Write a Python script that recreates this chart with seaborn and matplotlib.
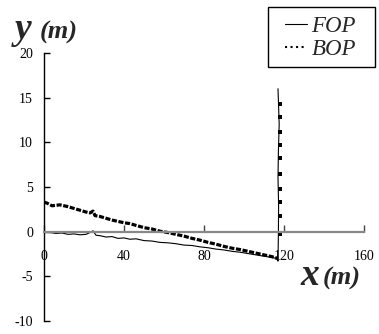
import numpy as np
import pandas as pd
import seaborn as sns
import matplotlib
matplotlib.use("Agg")
import matplotlib.pyplot as plt
from matplotlib.lines import Line2D
from matplotlib.patches import Rectangle

# ---- data ----
fop_x = [0, 3, 6, 9, 12, 15, 18, 21, 23, 24.5, 26, 28, 31, 34, 37, 40, 43, 46, 50, 54,
         58, 62, 66, 70, 74, 78, 82, 86, 90, 94, 98, 102, 106, 110, 113, 116.5,
         117, 117.2, 117.3, 117.0, 117.2, 117.6, 117.3, 117.0]
fop_y = [0, -0.1, -0.2, -0.15, -0.3, -0.25, -0.35, -0.3, -0.1, 0.1, -0.4, -0.45, -0.6, -0.55,
         -0.75, -0.7, -0.85, -0.8, -1.0, -1.05, -1.2, -1.25, -1.35, -1.5, -1.55, -1.7, -1.8,
         -1.95, -2.05, -2.2, -2.3, -2.45, -2.6, -2.75, -2.85, -3.0,
         -3.3, 0, 3, 6, 9, 12, 14, 16]

bop_x = [0, 1.5, 4, 8, 12, 15, 18, 21, 23, 24.5, 25.5, 28, 31, 34, 37, 40, 43, 46, 50, 54,
         58, 62, 66, 70, 74, 78, 82, 86, 90, 94, 98, 102, 106, 110, 114, 117]
bop_y = [3.3, 3.2, 2.9, 3.0, 2.8, 2.6, 2.4, 2.2, 2.1, 2.3, 1.8, 1.7, 1.5, 1.3, 1.15, 1.0, 0.9,
         0.7, 0.45, 0.3, 0.05, -0.1, -0.3, -0.5, -0.75, -0.95, -1.2, -1.4, -1.65, -1.85, -2.0,
         -2.2, -2.4, -2.6, -2.8, -3.0]
bop_vx = [118, 118, 118, 118, 118, 118, 118, 118, 118, 118]
bop_vy = [-0.3, 1.7, 3.3, 4.8, 6.4, 8.2, 9.7, 11.2, 12.8, 14.3]

x_ticks = [0, 40, 80, 120, 160]
y_ticks = [-10, -5, 0, 5, 10, 15, 20]
series_names = ["FOP", "BOP"]

# ---- style ----
sns.set_theme(style="white")
plt.rcParams["font.family"] = ["Liberation Serif", "DejaVu Serif"]

W, H = 379, 334
fig = plt.figure(figsize=(W / 100, H / 100), dpi=100)
ax = fig.add_axes([44 / W, 13 / H, 320 / W, 268 / H])
ax.set_facecolor("white")

sns.lineplot(x=fop_x, y=fop_y, sort=False, estimator=None, ax=ax,
             color="black", linewidth=0.8)
sns.lineplot(x=bop_x, y=bop_y, sort=False, estimator=None, ax=ax,
             color="black", linewidth=2.3, linestyle=(0, (1.6, 0.5)))
sns.scatterplot(x=bop_vx, y=bop_vy, ax=ax, marker="s", s=7, color="black",
                linewidth=0)

ax.set_xlim(0, 160)
ax.set_ylim(-10, 20)
ax.set_xticks(x_ticks)
ax.set_yticks(y_ticks)
ax.set_xticklabels([str(t) for t in x_ticks])
ax.set_yticklabels([str(t) for t in y_ticks])

for s in ["top", "right"]:
    ax.spines[s].set_visible(False)
ax.spines["bottom"].set_position(("data", 0))
ax.spines["bottom"].set_color("#888888")
ax.spines["bottom"].set_linewidth(1.6)
ax.spines["left"].set_color("black")
ax.spines["left"].set_linewidth(1.0)

ax.tick_params(axis="x", direction="in", length=5, width=1, color="#444444",
               pad=13, labelsize=10, labelcolor="black", bottom=True)
ax.tick_params(axis="y", direction="in", length=4, width=1, color="black",
               pad=8, labelsize=10, labelcolor="black", left=True)
ax.set_xlabel("")
ax.set_ylabel("")
ax.grid(False)

# axis titles
def px(x, y):
    return x / W, 1 - y / H

fig.text(*px(15, 39), "y", fontsize=27, fontweight="bold", fontstyle="italic",
         ha="left", va="baseline")
fig.text(*px(40, 39), "(m)", fontsize=19, fontweight="bold", fontstyle="italic",
         ha="left", va="baseline")
fig.text(*px(300, 285), "x", fontsize=27, fontweight="bold", fontstyle="italic",
         ha="left", va="baseline")
fig.text(*px(323, 285), "(m)", fontsize=19, fontweight="bold", fontstyle="italic",
         ha="left", va="baseline")

# legend frame (drawn inside the axes' artist list so the legend stays on top)
x0, y0 = px(268, 67)
x1, y1 = px(375, 7)
frame = Rectangle((x0, y0), x1 - x0, y1 - y0, transform=fig.transFigure,
                  facecolor="white", edgecolor="black", linewidth=1.0,
                  zorder=4, clip_on=False)
ax.add_artist(frame)

handles = [Line2D([], [], color="black", linewidth=0.8, linestyle="-"),
           Line2D([], [], color="black", linewidth=1.5, linestyle=":")]
leg = ax.legend(handles, series_names, loc="upper left",
                bbox_to_anchor=px(285, 16), bbox_transform=fig.transFigure,
                prop={"family": "Liberation Serif", "style": "italic", "size": 16.5},
                frameon=False, handlelength=0.95, handletextpad=0.2,
                labelspacing=0.1, borderpad=0, borderaxespad=0)
leg.set_zorder(6)

fig.savefig("out.png", dpi=100, facecolor="white")
